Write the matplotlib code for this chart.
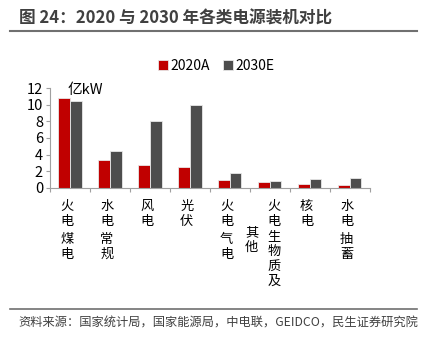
import numpy as np
import matplotlib.pyplot as plt

plt.rcParams['font.family'] = ['Noto Sans CJK SC', 'DejaVu Sans']

# data
categories = ['火电煤电', '水电常规', '风电', '光伏', '火电气电', '火电生物质及其他', '核电', '水电抽蓄']
label_cols = [['火电 煤电'], ['水电 常规'], ['风电'], ['光伏'], ['火电 气电'],
              ['火电生物质及', '其他'], ['核电'], ['水电 抽蓄']]
v2020 = [10.8, 3.4, 2.8, 2.5, 0.97, 0.68, 0.52, 0.33]
v2030 = [10.5, 4.4, 8.0, 10.0, 1.85, 0.8, 1.08, 1.15]
yticks = [0, 2, 4, 6, 8, 10, 12]

red = '#C00000'
dark = '#4D4D4D'

fig = plt.figure(figsize=(4.31, 3.48), dpi=100)
ax = fig.add_axes([0.116, 0.46, 0.742, 0.287])

x = np.arange(len(categories))
w = 0.29
ax.bar(x - w / 2, v2020, w, color=red, edgecolor='#E8E8E8', linewidth=0.6, label='2020A')
ax.bar(x + w / 2, v2030, w, color=dark, edgecolor='#E8E8E8', linewidth=0.6, label='2030E')

ax.set_xlim(-0.5, len(categories) - 0.5)
ax.set_ylim(0, 12)
ax.set_yticks(yticks)
ax.tick_params(axis='y', labelsize=10.5, length=3, color='#A0A0A0', pad=2)
ax.set_xticks(np.arange(len(categories) + 1) - 0.5)
ax.set_xticklabels([])
ax.tick_params(axis='x', length=3, color='#A0A0A0', direction='out')
for s in ['top', 'right']:
    ax.spines[s].set_visible(False)
ax.spines['left'].set_color('#A0A0A0')
ax.spines['bottom'].set_color('#A0A0A0')

ax.text(-0.06, 11.8, '亿kW', fontsize=10.5, va='center', ha='left')

# vertical stacked category labels
trans = ax.get_xaxis_transform()
for i, cols in enumerate(label_cols):
    if len(cols) == 1:
        offs, starts = [0], [-0.12]
    else:
        offs, starts = [0.18, -0.37], [-0.12, -0.385]
    for col, dx, y0 in zip(cols, offs, starts):
        for ch in col:
            if ch == ' ':
                y0 -= 0.03
                continue
            ax.text(i - 0.08 + dx, y0, ch, transform=trans, ha='center', va='top', fontsize=9.5)
            y0 -= 0.15

ax.legend(loc='upper center', bbox_to_anchor=(0.52, 1.42), ncol=2, frameon=False,
          fontsize=10, handlelength=0.7, handleheight=0.7, handletextpad=0.2, columnspacing=0.9)

# title and footer
fig.text(0.045, 0.948, '图 24：2020 与 2030 年各类电源装机对比', fontsize=12, fontweight='bold',
         color='#404040', va='center')
fig.add_artist(plt.Line2D([0.023, 0.968], [0.911, 0.911], color='#707070', lw=1.5))
fig.add_artist(plt.Line2D([0.023, 0.968], [0.112, 0.112], color='#707070', lw=1.2))
fig.text(0.042, 0.073, '资料来源：国家统计局，国家能源局，中电联，GEIDCO，民生证券研究院', fontsize=8.8,
         color='#404040', va='center')

fig.savefig('out.png', dpi=100)
